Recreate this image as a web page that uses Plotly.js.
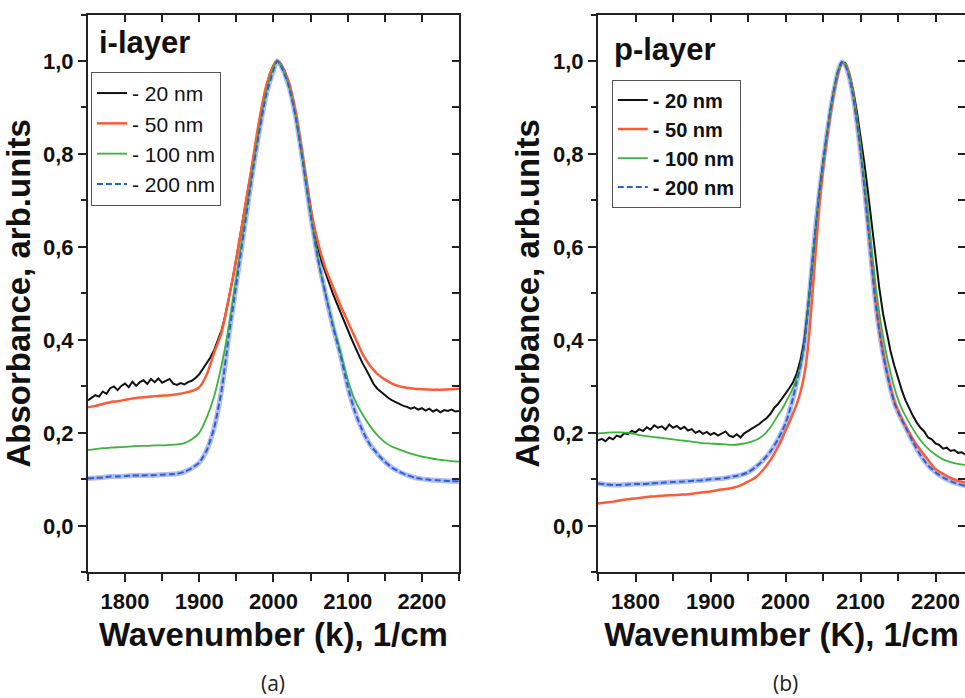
<!DOCTYPE html>
<html><head><meta charset="utf-8">
<script src="https://cdn.plot.ly/plotly-3.0.1.min.js"></script>
<style>html,body{margin:0;padding:0;background:#fff}#chart{width:965px;height:698px}</style>
</head><body><div id="chart"></div>
<script>
// ---------- DATA: panel (a) i-layer ----------
const kA = [1750,1760,1770,1780,1790,1800,1810,1820,1830,1840,1850,1860,1870,1880,1890,1900,1910,1920,1930,1940,1950,1960,1970,1980,1990,2000,2005,2010,2020,2030,2040,2050,2060,2070,2080,2090,2100,2110,2120,2130,2140,2150,2160,2170,2180,2190,2200,2210,2220,2230,2240,2250];
const a50 = [.255,.258,.262,.266,.268,.271,.274,.276,.277,.279,.280,.281,.283,.286,.290,.298,.325,.372,.415,.49,.575,.67,.765,.865,.945,.99,1.0,.992,.958,.89,.79,.685,.61,.555,.515,.475,.44,.405,.37,.345,.327,.315,.306,.30,.297,.295,.294,.293,.293,.293,.294,.295];
const a100 = [.163,.165,.167,.168,.169,.170,.171,.172,.172,.173,.173,.174,.175,.178,.186,.200,.232,.278,.345,.43,.535,.64,.745,.845,.93,.985,1.0,.99,.95,.88,.78,.67,.575,.50,.435,.375,.315,.27,.24,.215,.195,.18,.17,.164,.158,.153,.149,.146,.143,.141,.139,.138];
const a200 = [.102,.103,.104,.106,.106,.107,.108,.108,.109,.109,.110,.111,.112,.116,.124,.136,.162,.21,.29,.41,.52,.63,.74,.84,.925,.98,1.0,.99,.95,.88,.78,.67,.575,.50,.43,.37,.30,.245,.205,.175,.155,.138,.125,.116,.109,.104,.101,.099,.098,.097,.096,.096];
const kA20 = [1750,1755,1760,1765,1770,1775,1780,1785,1790,1795,1800,1805,1810,1815,1820,1825,1830,1835,1840,1845,1850,1855,1860,1865,1870,1875,1880,1885,1890,1895,1900,1905,1910,1915,1920,1925,1930,1935,1940,1945,1950,1955,1960,1965,1970,1975,1980,1985,1990,1995,2000,2005,2010,2015,2020,2025,2030,2035,2040,2045,2050,2055,2060,2065,2070,2075,2080,2085,2090,2095,2100,2105,2110,2115,2120,2125,2130,2135,2140,2145,2150,2155,2160,2165,2170,2175,2180,2185,2190,2195,2200,2205,2210,2215,2220,2225,2230,2235,2240,2245,2250];
const a20 = [.270,.276,.281,.278,.289,.284,.296,.300,.292,.301,
.306,.298,.310,.301,.309,.313,.305,.316,.309,.317,
.308,.312,.316,.306,.303,.307,.304,.309,.312,.318,
.326,.338,.350,.362,.378,.398,.420,.452,.488,.530,
.575,.622,.668,.716,.764,.814,.862,.905,.943,.972,
.990,1.0,.993,.978,.955,.925,.885,.838,.785,.732,
.680,.636,.600,.568,.545,.521,.500,.480,.460,.440,
.420,.403,.385,.367,.350,.336,.320,.305,.295,.288,
.280,.275,.270,.266,.262,.258,.256,.252,.255,.250,
.253,.248,.252,.246,.250,.244,.249,.247,.250,.246,
.247];

// ---------- DATA: panel (b) p-layer ----------
const kB = [1750,1760,1770,1780,1790,1800,1810,1820,1830,1840,1850,1860,1870,1880,1890,1900,1910,1920,1930,1940,1950,1960,1970,1980,1990,
1995,2000,2005,2010,2015,2020,2025,2030,2035,2040,2045,2050,2055,2060,2065,2070,2075,2080,2085,2090,2095,2100,2105,2110,2115,2120,2125,2130,2135,2140,2145,2150,2155,2160,
2170,2180,2190,2200,2210,2220,2230,2240,2250];
const b50 = [.048,.050,.052,.055,.057,.059,.061,.063,.064,.065,.066,.067,.068,.070,.072,.074,.077,.079,.082,.087,.095,.104,.12,.142,.17,
.186,.205,.222,.242,.262,.288,.325,.385,.48,.585,.685,.765,.83,.885,.935,.972,.996,.993,.97,.93,.875,.812,.737,.652,.566,.487,.425,.375,.334,.298,.268,.248,.23,.215,
.186,.163,.142,.122,.112,.103,.097,.093,.091];
const b100 = [.199,.200,.201,.201,.200,.197,.194,.192,.190,.188,.186,.184,.182,.180,.178,.177,.176,.175,.174,.176,.179,.184,.194,.212,.238,
.25,.265,.28,.297,.318,.345,.39,.465,.555,.64,.715,.78,.84,.895,.94,.978,.998,.992,.968,.93,.878,.818,.748,.672,.595,.52,.458,.408,.365,.33,.298,.272,.252,.236,
.208,.184,.166,.153,.143,.137,.133,.131,.13];
const b200 = [.091,.089,.088,.088,.089,.090,.090,.091,.092,.093,.094,.095,.096,.097,.098,.100,.101,.103,.106,.109,.115,.126,.141,.16,.186,
.202,.22,.245,.275,.31,.345,.39,.465,.555,.64,.715,.78,.84,.895,.94,.978,.998,.99,.965,.925,.87,.805,.73,.645,.56,.48,.42,.37,.33,.295,.265,.245,.228,.212,
.18,.152,.13,.115,.104,.096,.09,.086,.084];
const kB20 = kA20;
const b20 = [.184,.187,.182,.190,.186,.194,.191,.199,.197,.204,
.201,.208,.204,.212,.207,.216,.211,.214,.207,.218,
.211,.215,.208,.213,.205,.208,.200,.204,.198,.202,
.196,.200,.194,.198,.203,.194,.191,.197,.190,.199,
.204,.209,.214,.219,.226,.232,.241,.254,.262,.273,
.284,.296,.309,.328,.356,.398,.468,.556,.642,.716,
.780,.840,.894,.940,.976,.997,.995,.972,.937,.892,
.840,.782,.718,.650,.578,.512,.457,.412,.376,.345,
.317,.292,.270,.252,.236,.222,.211,.203,.190,.186,
.177,.174,.166,.168,.161,.163,.157,.158,.153,.156,
.154];

// ---------- tick labels ----------
const xTickVals = [1800,1900,2000,2100,2200];
const xTickText = ['1800','1900','2000','2100','2200'];
const yTickVals = [0,0.2,0.4,0.6,0.8,1.0];
const yTickText = ['0,0','0,2','0,4','0,6','0,8','1,0'];
const names = ['- 20 nm','- 50 nm','- 100 nm','- 200 nm'];

// ---------- styles ----------
const C20='#111111', C50='#ff5a36', C100='#3cb43c', C200='#2563d6', CHALO='#b3bbef';
const FF='Liberation Sans, Arial, sans-serif';

function panel(xa, ya, leg, k20, y20, k, y50, y100, y200){
  return [
    {x:k, y:y200, xaxis:xa, yaxis:ya, mode:'lines', line:{color:CHALO, width:5, shape:'spline', smoothing:0.6}, showlegend:false, hoverinfo:'skip'},
    {x:k20, y:y20, xaxis:xa, yaxis:ya, mode:'lines', name:names[0], legend:leg, line:{color:C20, width:2}},
    {x:k, y:y50, xaxis:xa, yaxis:ya, mode:'lines', name:names[1], legend:leg, line:{color:C50, width:2.5, shape:'spline', smoothing:0.6}},
    {x:k, y:y100, xaxis:xa, yaxis:ya, mode:'lines', name:names[2], legend:leg, line:{color:C100, width:1.8, shape:'spline', smoothing:0.6}},
    {x:k, y:y200, xaxis:xa, yaxis:ya, mode:'lines', name:names[3], legend:leg, line:{color:C200, width:2, dash:'6px,3px', shape:'spline', smoothing:0.6}}
  ];
}
const traces = [].concat(
  panel('x','y','legend',kA20,a20,kA,a50,a100,a200),
  panel('x2','y2','legend2',kB20,b20,kB,b50,b100,b200),
  [
    {x:[], y:[], xaxis:'x3', yaxis:'y', showlegend:false, hoverinfo:'skip', mode:'lines'},
    {x:[], y:[], xaxis:'x', yaxis:'y3', showlegend:false, hoverinfo:'skip', mode:'lines'},
    {x:[], y:[], xaxis:'x4', yaxis:'y2', showlegend:false, hoverinfo:'skip', mode:'lines'},
    {x:[], y:[], xaxis:'x2', yaxis:'y4', showlegend:false, hoverinfo:'skip', mode:'lines'}
  ]
);

const tickFont = {family:FF, size:22, weight:'bold', color:'#111'};
const titleFont = {family:FF, size:33, weight:'bold', color:'#111'};
const yDom = [0.1801, 0.9792];
const yRange = [-0.1, 1.1];

function mainX(dom, range, title){
  return {domain:dom, range:range, autorange:false, showline:true, linecolor:'#222', linewidth:2, mirror:true,
    ticks:'outside', ticklen:8, tickwidth:2, tickcolor:'#222', tickmode:'array', tickvals:xTickVals, ticktext:xTickText,
    minor:{dtick:50, tick0:1750, ticks:'outside', ticklen:7, tickwidth:2, tickcolor:'#222'},
    tickfont:tickFont, showgrid:false, zeroline:false,
    title:{text:title, font:titleFont, standoff:10}};
}
function mainY(anchor, mirror){
  return {domain:yDom, range:yRange, autorange:false, anchor:anchor, showline:true, linecolor:'#222', linewidth:2, mirror:mirror,
    ticks:'outside', ticklen:8, tickwidth:2, tickcolor:'#222', tickmode:'array', tickvals:yTickVals, ticktext:yTickText,
    minor:{dtick:0.1, tick0:0, ticks:'outside', ticklen:5, tickwidth:2, tickcolor:'#222'},
    tickfont:tickFont, showgrid:false, zeroline:false,
    title:{text:'Absorbance, arb.units', font:titleFont, standoff:3}};
}
function topX(over, anchor, range){
  return {overlaying:over, anchor:anchor, side:'top', range:range, autorange:false, showline:false, showgrid:false, zeroline:false,
    showticklabels:false, tickmode:'linear', tick0:1750, dtick:50, ticks:'inside', ticklen:7, tickwidth:2, tickcolor:'#222'};
}
function rightY(over, anchor){
  return {overlaying:over, anchor:anchor, side:'right', range:yRange, autorange:false, showline:false, showgrid:false, zeroline:false,
    showticklabels:false, tickmode:'linear', tick0:0, dtick:0.1, ticks:'inside', ticklen:7, tickwidth:2, tickcolor:'#222'};
}

const rangeA = [1750, 2250];
const rangeB = [1750, 2239.3];

const layout = {
  width:965, height:698, margin:{l:0, r:0, t:0, b:0},
  paper_bgcolor:'#fff', plot_bgcolor:'#fff', showlegend:true,
  xaxis: Object.assign(mainX([0.0911,0.4756], rangeA, 'Wavenumber (k), 1/cm'), {anchor:'y'}),
  yaxis: mainY('x', true),
  xaxis2: Object.assign(mainX([0.6197,1], rangeB, 'Wavenumber (K), 1/cm'), {anchor:'y2'}),
  yaxis2: mainY('x2', false),
  xaxis3: topX('x','y',rangeA),
  yaxis3: rightY('y','x'),
  xaxis4: topX('x2','y2',rangeB),
  yaxis4: rightY('y2','x2'),
  legend:{x:0.0943, y:0.897, xanchor:'left', yanchor:'top', bgcolor:'#fff', bordercolor:'#555', borderwidth:1,
    font:{family:FF, size:21, color:'#111'}, tracegroupgap:0},
  legend2:{x:0.634, y:0.886, xanchor:'left', yanchor:'top', bgcolor:'#fff', bordercolor:'#555', borderwidth:1,
    font:{family:FF, size:20, weight:'bold', color:'#111'}, tracegroupgap:0},
  annotations:[
    {text:'i-layer', xref:'paper', yref:'paper', x:0.1005, y:0.9384, xanchor:'left', yanchor:'middle', showarrow:false,
      font:{family:FF, size:31, weight:'bold', color:'#111'}},
    {text:'p-layer', xref:'paper', yref:'paper', x:0.6342, y:0.9284, xanchor:'left', yanchor:'middle', showarrow:false,
      font:{family:FF, size:31, weight:'bold', color:'#111'}},
    {text:'(a)', xref:'paper', yref:'paper', x:0.2834, y:0.022, xanchor:'center', yanchor:'middle', showarrow:false,
      font:{family:'Open Sans, sans-serif', size:21, color:'#222'}},
    {text:'(b)', xref:'paper', yref:'paper', x:0.8135, y:0.022, xanchor:'center', yanchor:'middle', showarrow:false,
      font:{family:'Open Sans, sans-serif', size:21, color:'#222'}}
  ]
};
Plotly.newPlot('chart', traces, layout, {staticPlot:true, displayModeBar:false});
</script></body></html>
